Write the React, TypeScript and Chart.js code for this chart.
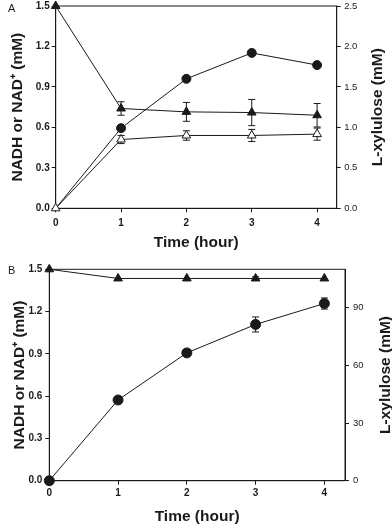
import React, { useEffect, useRef } from "react";
import { Chart, registerables } from "chart.js";

Chart.register(...registerables);

// ---- data ----
const hours = [0, 1, 2, 3, 4];
const xTicks = [0, 1, 2, 3, 4];
const leftTicks = [0, 0.3, 0.6, 0.9, 1.2, 1.5];
const rightTicksA = [0, 0.5, 1.0, 1.5, 2.0, 2.5];
const rightTicksB = [0, 30, 60, 90];

// Panel A
const aXylulose = [0, 0.99, 1.6, 1.92, 1.77];
const aNadFilled = [1.5, 0.74, 0.715, 0.71, 0.69];
const aNadFilledErr = [0, 0.05, 0.07, 0.097, 0.087];
const aNadOpen = [0, 0.51, 0.54, 0.54, 0.55];
const aNadOpenErr = [0, 0.03, 0.035, 0.045, 0.045];

// Panel B
const bNad = [1.5, 1.435, 1.435, 1.435, 1.435];
const bNadErr = [0, 0, 0, 0.012, 0];
const bXylulose = [0, 42, 66.5, 81.3, 92.2];
const bXyluloseErr = [0, 1, 1.5, 3.9, 2.9];

const FONT = "'Liberation Sans', Arial, Helvetica, sans-serif";
const INK = "#1a1a1a";
const LEFT_TITLE = "NADH or NAD\u207A (mM)";
const RIGHT_TITLE = "L-xylulose (mM)";
const X_TITLE = "Time (hour)";

const pts = (arr: number[]) => hours.map((h, i) => ({ x: h, y: arr[i] }));

const framePlugin = {
  id: "frame",
  beforeDatasetsDraw(chart: any) {
    const { ctx, chartArea: a } = chart;
    ctx.save();
    ctx.strokeStyle = INK;
    ctx.lineWidth = 1;
    ctx.strokeRect(a.left, a.top, a.right - a.left, a.bottom - a.top);
    ctx.restore();
  },
};

const errorBarPlugin = {
  id: "errorBars",
  beforeDatasetsDraw(chart: any, _args: any, opts: any) {
    const sets = (opts && opts.sets) || [];
    const { ctx } = chart;
    ctx.save();
    ctx.strokeStyle = INK;
    ctx.lineWidth = 1;
    sets.forEach((s: any) => {
      const meta = chart.getDatasetMeta(s.index);
      const ys = chart.scales[meta.yAxisID];
      const vals = chart.data.datasets[s.index].data;
      meta.data.forEach((pt: any, j: number) => {
        const e = s.errors[j];
        if (!e) return;
        const v = vals[j].y;
        const top = ys.getPixelForValue(v + e);
        const bot = ys.getPixelForValue(v - e);
        const x = pt.x;
        const cap = 3.5;
        ctx.beginPath();
        ctx.moveTo(x, top);
        ctx.lineTo(x, bot);
        ctx.moveTo(x - cap, top);
        ctx.lineTo(x + cap, top);
        ctx.moveTo(x - cap, bot);
        ctx.lineTo(x + cap, bot);
        ctx.stroke();
      });
    });
    ctx.restore();
  },
};

const rightTitlePlugin = {
  id: "rightTitle",
  afterDraw(chart: any, _args: any, opts: any) {
    if (!opts || !opts.text) return;
    const { ctx, chartArea: a } = chart;
    ctx.save();
    ctx.translate(a.right + opts.offset, (a.top + a.bottom) / 2);
    ctx.rotate(-Math.PI / 2);
    ctx.font = `bold 15.5px ${FONT}`;
    ctx.textAlign = "center";
    ctx.textBaseline = "middle";
    ctx.fillStyle = INK;
    ctx.fillText(opts.text, 0, 0);
    ctx.restore();
  },
};

function axisCommon() {
  return {
    grid: {
      display: true,
      drawOnChartArea: false,
      drawTicks: true,
      tickLength: 4,
      color: INK,
      lineWidth: 1,
    },
    border: { display: true, color: INK, width: 1 },
  };
}

function makeConfig(p: any) {
  return {
    type: "line",
    data: { datasets: p.datasets },
    options: {
      responsive: false,
      animation: false,
      events: [],
      layout: { padding: { top: p.top, left: 0, right: 0, bottom: 0 } },
      plugins: {
        legend: { display: false },
        tooltip: { enabled: false },
        errorBars: { sets: p.errSets },
        rightTitle: { text: RIGHT_TITLE, offset: p.rightTitleOffset },
      },
      scales: {
        x: {
          type: "linear",
          min: 0,
          max: 4.3,
          afterFit: (s: any) => {
            s.height = p.xH;
            s.paddingLeft = 0;
            s.paddingRight = 0;
          },
          afterBuildTicks: (s: any) => {
            s.ticks = xTicks.map((v) => ({ value: v }));
          },
          ticks: {
            font: { family: FONT, size: 10, weight: "bold" },
            color: INK,
            padding: p.xPad,
            maxRotation: 0,
            callback: (v: any) => String(v),
          },
          ...axisCommon(),
          title: {
            display: true,
            text: X_TITLE,
            color: INK,
            font: { family: FONT, size: 15.5, weight: "bold", lineHeight: 1.2 },
            padding: { top: 0, bottom: p.xTitlePad },
          },
        },
        y: {
          type: "linear",
          position: "left",
          min: 0,
          max: 1.5,
          afterFit: (s: any) => {
            s.width = p.yW;
            s.paddingTop = 0;
            s.paddingBottom = 0;
          },
          afterBuildTicks: (s: any) => {
            s.ticks = leftTicks.map((v) => ({ value: v }));
          },
          ticks: {
            font: { family: FONT, size: 10, weight: "bold" },
            color: INK,
            padding: p.yPad,
            callback: (v: any) => Number(v).toFixed(1),
          },
          ...axisCommon(),
          title: {
            display: true,
            text: LEFT_TITLE,
            color: INK,
            font: { family: FONT, size: 15.5, weight: "bold", lineHeight: 1.2 },
            padding: { top: p.yTitlePad, bottom: 0 },
          },
        },
        y2: {
          type: "linear",
          position: "right",
          min: 0,
          max: p.y2Max,
          afterFit: (s: any) => {
            s.width = p.y2W;
            s.paddingTop = 0;
            s.paddingBottom = 0;
          },
          afterBuildTicks: (s: any) => {
            s.ticks = p.y2Ticks.map((v: number) => ({ value: v }));
          },
          ticks: {
            font: { family: FONT, size: 9.5 },
            color: INK,
            padding: p.y2Pad,
            callback: p.y2Fmt,
          },
          ...axisCommon(),
        },
      },
    },
    plugins: [framePlugin, errorBarPlugin, rightTitlePlugin],
  };
}

function lineDs(data: number[], axis: string, style: string, fill: string, radius: any) {
  return {
    data: pts(data),
    yAxisID: axis,
    borderColor: INK,
    borderWidth: 1,
    pointStyle: style,
    pointRadius: radius,
    pointBackgroundColor: fill,
    pointBorderColor: INK,
    pointBorderWidth: 1,
    tension: 0,
    fill: false,
    clip: false,
  };
}

function configA() {
  return makeConfig({
    top: 6,
    xH: 51.7,
    yW: 55.7,
    y2W: 55.3,
    xPad: 4.5,
    yPad: 2,
    y2Pad: 3.5,
    xTitlePad: 7.7,
    yTitlePad: 8.7,
    rightTitleOffset: 41.3,
    y2Max: 2.5,
    y2Ticks: rightTicksA,
    y2Fmt: (v: any) => Number(v).toFixed(1),
    datasets: [
      lineDs(aNadOpen, "y", "triangle", "#ffffff", 5),
      lineDs(aNadFilled, "y", "triangle", INK, 5),
      lineDs(aXylulose, "y2", "circle", INK, [0, 4.5, 4.5, 4.5, 4.5]),
    ],
    errSets: [
      { index: 0, errors: aNadOpenErr },
      { index: 1, errors: aNadFilledErr },
    ],
  });
}

function configB() {
  return makeConfig({
    top: 9.3,
    xH: 47.3,
    yW: 49.3,
    y2W: 47,
    xPad: 3,
    yPad: 3,
    y2Pad: 4,
    xTitlePad: 2,
    yTitlePad: 10.7,
    rightTitleOffset: 40.5,
    y2Max: 110,
    y2Ticks: rightTicksB,
    y2Fmt: (v: any) => String(v),
    datasets: [
      lineDs(bNad, "y", "triangle", INK, 5),
      lineDs(bXylulose, "y2", "circle", INK, 5),
    ],
    errSets: [
      { index: 0, errors: bNadErr },
      { index: 1, errors: bXyluloseErr },
    ],
  });
}

function Panel({ top, height, make }: { top: number; height: number; make: () => any }) {
  const ref = useRef<HTMLCanvasElement | null>(null);
  useEffect(() => {
    if (!ref.current) return;
    const chart = new Chart(ref.current, make());
    return () => chart.destroy();
  }, []);
  return (
    <canvas
      ref={ref}
      width={392}
      height={height}
      style={{ position: "absolute", left: 0, top, width: 392, height, display: "block" }}
    />
  );
}

export default function App() {
  const labelStyle: any = {
    position: "absolute",
    left: 8,
    fontFamily: FONT,
    fontSize: 11,
    lineHeight: 1,
    color: INK,
  };
  return (
    <div style={{ position: "absolute", left: 0, top: 0, width: 392, height: 528, background: "#ffffff", overflow: "hidden" }}>
      <Panel top={0} height={260} make={configA} />
      <Panel top={260} height={268} make={configB} />
      <span style={{ ...labelStyle, top: 2.7 }}>A</span>
      <span style={{ ...labelStyle, top: 265 }}>B</span>
    </div>
  );
}
